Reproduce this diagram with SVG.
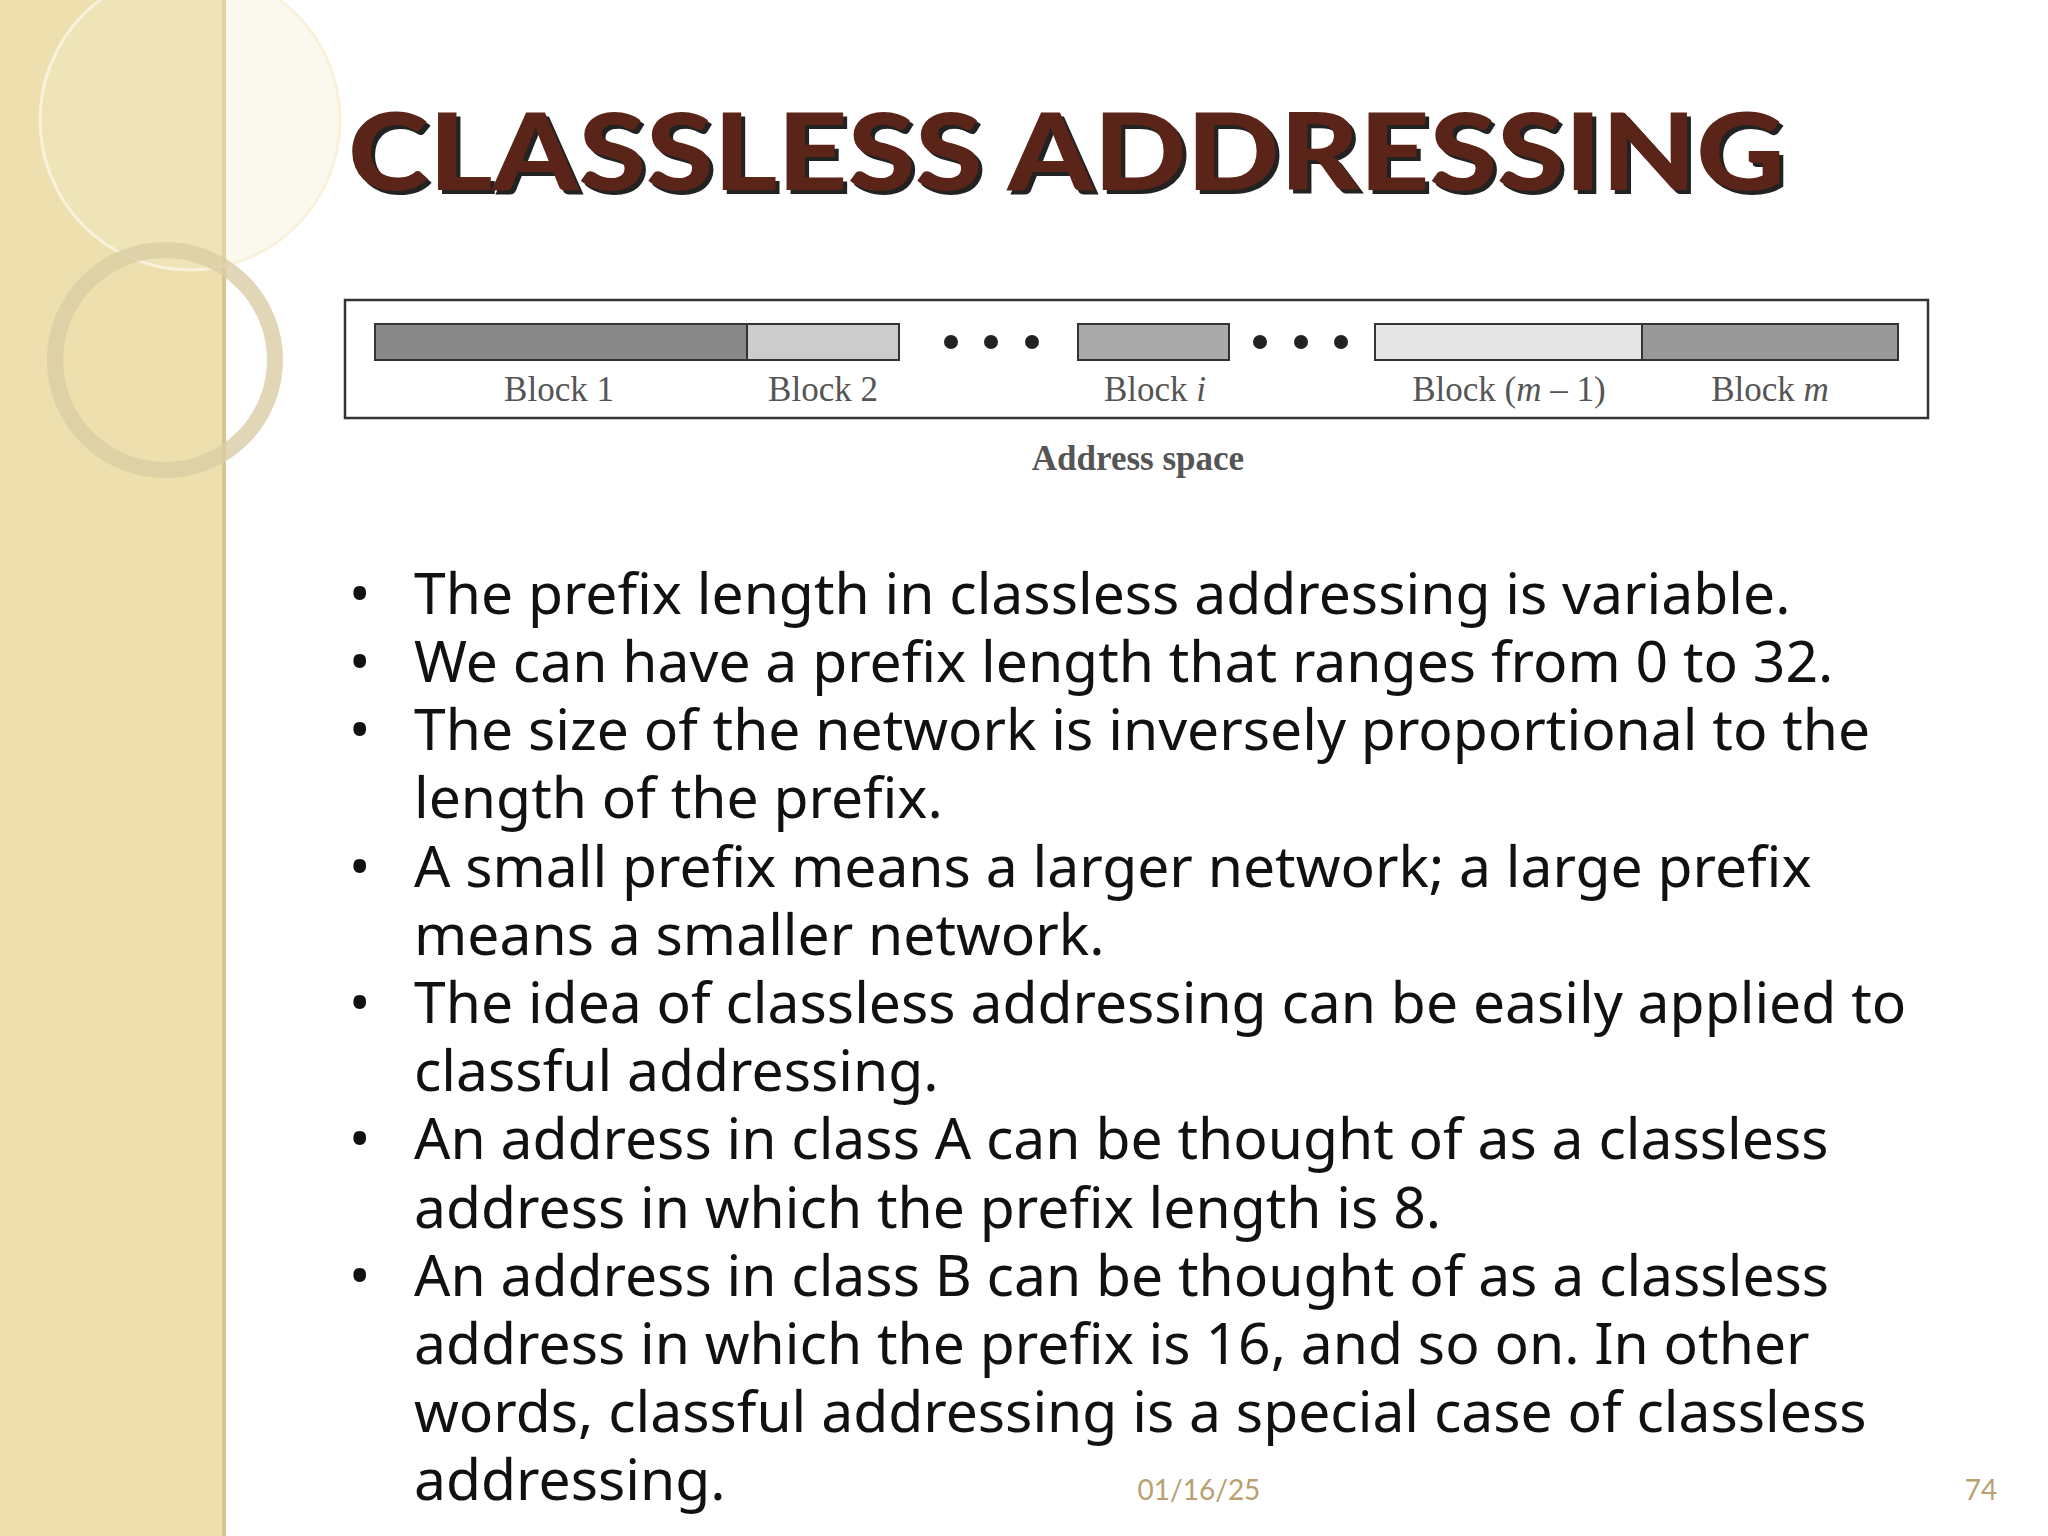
<svg xmlns="http://www.w3.org/2000/svg" width="2048" height="1536" viewBox="0 0 2048 1536">
<style>
.b{font-family:"Noto Sans","Open Sans",sans-serif;font-size:57px;fill:#111}
.l{font-family:"Liberation Serif",serif;font-size:35px;fill:#555;text-anchor:middle}
.blk{stroke:#333;stroke-width:2}
</style>
<rect width="2048" height="1536" fill="#fff"/>
<g id="sidebar">
<rect x="0" y="0" width="226" height="1536" fill="#eddfae"/>
<rect x="222" y="0" width="4" height="1536" fill="#d8c690"/>
<circle cx="190" cy="120" r="150" fill="#f4ebcc" fill-opacity="0.35" stroke="#f8f2dc" stroke-width="3"/>
<circle cx="165" cy="360" r="110" fill="none" stroke="#d9cda4" stroke-width="16" stroke-opacity="0.8"/>
</g>
<g id="title">
<text x="352" y="194" font-family="Lato,'Open Sans',sans-serif" font-weight="900" font-size="106" fill="#222" textLength="1437" lengthAdjust="spacingAndGlyphs">CLASSLESS ADDRESSING</text>
<text x="348" y="190" font-family="Lato,'Open Sans',sans-serif" font-weight="900" font-size="106" fill="#5a2418" textLength="1437" lengthAdjust="spacingAndGlyphs">CLASSLESS ADDRESSING</text>
</g>
<g id="diagram">
<rect x="345" y="300" width="1583" height="118" fill="#fff" stroke="#333" stroke-width="2.5"/>
<rect class="blk" x="375" y="324" width="372" height="36" fill="#888"/>
<rect class="blk" x="747" y="324" width="152" height="36" fill="#ccc"/>
<rect class="blk" x="1078" y="324" width="151" height="36" fill="#aaa"/>
<rect class="blk" x="1375" y="324" width="267" height="36" fill="#e6e6e6"/>
<rect class="blk" x="1642" y="324" width="256" height="36" fill="#999"/>
<g fill="#222"><circle cx="951" cy="342" r="7"/><circle cx="991" cy="342" r="7"/><circle cx="1032" cy="342" r="7"/><circle cx="1260" cy="342" r="7"/><circle cx="1301" cy="342" r="7"/><circle cx="1341" cy="342" r="7"/></g>
<text class="l" x="559" y="401">Block 1</text>
<text class="l" x="823" y="401">Block 2</text>
<text class="l" x="1155" y="401">Block <tspan font-style="italic">i</tspan></text>
<text class="l" x="1509" y="401">Block (<tspan font-style="italic">m</tspan> – 1)</text>
<text class="l" x="1770" y="401">Block <tspan font-style="italic">m</tspan></text>
<text class="l" x="1138" y="470" font-weight="bold" fill="#999">Address space</text>
</g>
<g id="bullets">
<text class="b" x="349" y="614">•</text><text class="b" x="414" y="614">The prefix length in classless addressing is variable.</text>
<text class="b" x="349" y="682">•</text><text class="b" x="414" y="682">We can have a prefix length that ranges from 0 to 32.</text>
<text class="b" x="349" y="750">•</text><text class="b" x="414" y="750">The size of the network is inversely proportional to the</text>
<text class="b" x="414" y="818">length of the prefix.</text>
<text class="b" x="349" y="887">•</text><text class="b" x="414" y="887">A small prefix means a larger network; a large prefix</text>
<text class="b" x="414" y="955">means a smaller network.</text>
<text class="b" x="349" y="1023">•</text><text class="b" x="414" y="1023">The idea of classless addressing can be easily applied to</text>
<text class="b" x="414" y="1091">classful addressing.</text>
<text class="b" x="349" y="1159">•</text><text class="b" x="414" y="1159">An address in class A can be thought of as a classless</text>
<text class="b" x="414" y="1228">address in which the prefix length is 8.</text>
<text class="b" x="349" y="1296">•</text><text class="b" x="414" y="1296">An address in class B can be thought of as a classless</text>
<text class="b" x="414" y="1364">address in which the prefix is 16, and so on. In other</text>
<text class="b" x="414" y="1432">words, classful addressing is a special case of classless</text>
<text class="b" x="414" y="1500">addressing.</text>
</g>
<g id="footer" font-family="Lato,'Open Sans',sans-serif" font-size="28" fill="#b8a070">
<text x="1199" y="1500" text-anchor="middle">01/16/25</text>
<text x="1981" y="1500" text-anchor="middle">74</text>
</g>
</svg>
